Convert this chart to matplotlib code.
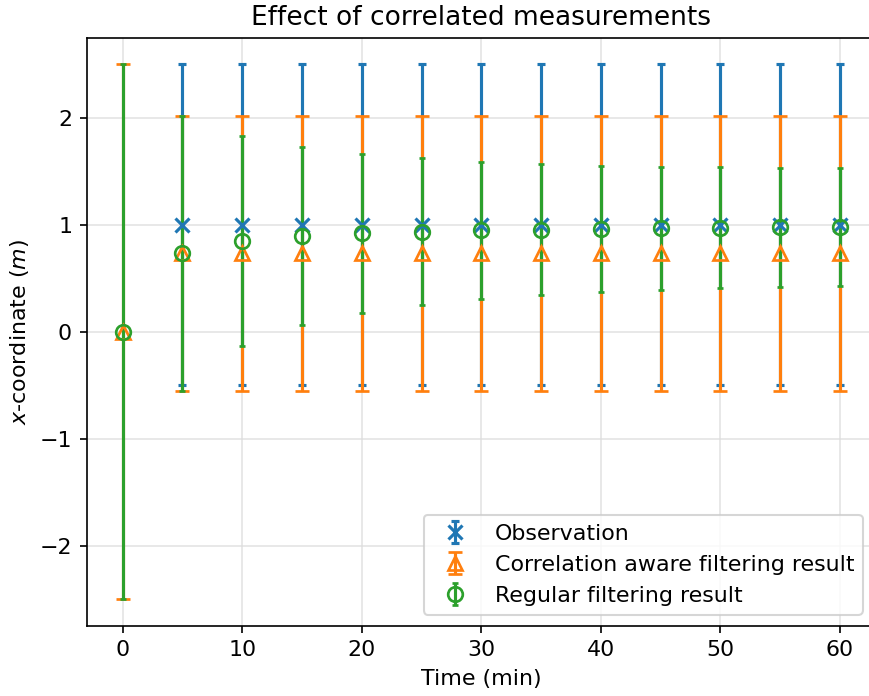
import matplotlib
matplotlib.use("Agg")
import matplotlib.pyplot as plt
import numpy as np

# Data
obs_t = [5, 10, 15, 20, 25, 30, 35, 40, 45, 50, 55, 60]
obs_val = [1, 1, 1, 1, 1, 1, 1, 1, 1, 1, 1, 1]
obs_err = [1.5] * 12

t = [0, 5, 10, 15, 20, 25, 30, 35, 40, 45, 50, 55, 60]
corr_val = [0.0] + [0.735] * 12
corr_err = [2.5] + [1.285] * 12

reg_val = [0.0, 0.735, 0.85, 0.894, 0.92, 0.936, 0.947, 0.956, 0.961, 0.969, 0.972, 0.975, 0.978]
reg_err = [2.5, 1.285, 0.98, 0.83, 0.745, 0.687, 0.645, 0.617, 0.593, 0.576, 0.567, 0.557, 0.551]

plt.rcParams['font.size'] = 10.6

fig = plt.figure(figsize=(869/150, 696/150), dpi=150)
ax = fig.add_axes([86.7/869, 0.101, (875.9-86.7)/869, 0.9458-0.101])

ax.grid(True, color='#dddddd', linewidth=0.8, alpha=0.8)
ax.set_axisbelow(True)

ax.errorbar(obs_t, obs_val, yerr=obs_err, fmt='x', color='C0', capsize=2,
            capthick=1.5, markersize=7, markeredgewidth=1.5, label='Observation')
ax.errorbar(t, corr_val, yerr=corr_err, fmt='^', color='C1', capsize=3.3,
            capthick=1.5, markersize=7, markerfacecolor='none', markeredgewidth=1.3,
            label='Correlation aware filtering result')
ax.errorbar(t, reg_val, yerr=reg_err, fmt='o', color='C2', capsize=1.5,
            capthick=1.2, markersize=7, markerfacecolor='none', markeredgewidth=1.3,
            label='Regular filtering result')

ax.set_xlim(-3, 63)
ax.set_ylim(-2.75, 2.75)
ax.set_title('Effect of correlated measurements', fontsize=12.7)
ax.set_xlabel('Time (min)')
ax.set_ylabel(r'$x$-coordinate ($m$)')
ax.legend(loc='lower right', bbox_to_anchor=(0.9975, 0.0))

fig.savefig('out.png', dpi=150)
